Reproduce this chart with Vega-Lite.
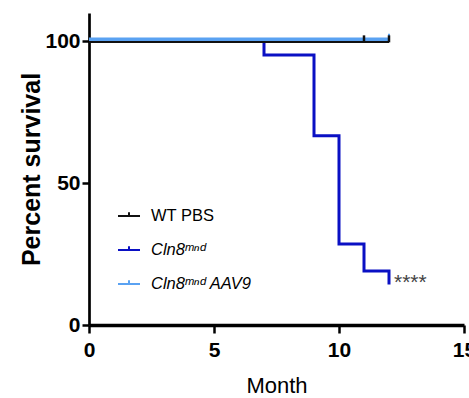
{
  "$schema": "https://vega.github.io/schema/vega-lite/v6.json",
  "width": 375,
  "height": 312,
  "autosize": "none",
  "padding": {"left": 89, "top": 13, "right": 5, "bottom": 73},
  "background": "white",
  "config": {
    "view": {"stroke": null},
    "axis": {
      "grid": false,
      "domainColor": "#000",
      "tickColor": "#000",
      "labelColor": "#000",
      "titleColor": "#000"
    }
  },
  "datasets": {
    "curves": [
      {"group": "Cln8mnd", "month": 0, "pct": 100},
      {"group": "Cln8mnd", "month": 7, "pct": 95.2},
      {"group": "Cln8mnd", "month": 9, "pct": 66.7},
      {"group": "Cln8mnd", "month": 10, "pct": 28.6},
      {"group": "Cln8mnd", "month": 11, "pct": 19.0},
      {"group": "Cln8mnd", "month": 12, "pct": 14.3},
      {"group": "WT PBS", "month": 0, "pct": 100},
      {"group": "WT PBS", "month": 12, "pct": 100},
      {"group": "Cln8mnd AAV9", "month": 0, "pct": 100},
      {"group": "Cln8mnd AAV9", "month": 12, "pct": 100}
    ],
    "censored": [
      {"group": "WT PBS", "month": 11, "pct": 100},
      {"group": "WT PBS", "month": 12, "pct": 100},
      {"group": "Cln8mnd AAV9", "month": 12, "pct": 100}
    ],
    "notes": [
      {"group": "Cln8mnd", "month": 12, "pct": 14.3, "note": "****"}
    ]
  },
  "layer": [
    {
      "data": {"name": "curves"},
      "transform": [{"filter": "datum.group == 'Cln8mnd'"}],
      "mark": {"type": "line", "interpolate": "step-after", "strokeWidth": 3},
      "encoding": {
        "x": {
          "field": "month", "type": "quantitative",
          "scale": {"domain": [0, 15], "nice": false, "zero": false},
          "axis": {
            "values": [0, 5, 10, 15],
            "title": "Month",
            "titleFont": "Liberation Sans, Arial",
            "titleFontSize": 22,
            "titleFontWeight": "normal",
            "titlePadding": 15,
            "labelFont": "Liberation Sans, Arial",
            "labelFontSize": 21,
            "labelFontWeight": "bold",
            "labelPadding": 6,
            "tickSize": 8,
            "tickWidth": 2.5,
            "domainWidth": 3.5,
            "labelFlush": false,
            "labelOverlap": false
          }
        },
        "y": {
          "field": "pct", "type": "quantitative",
          "scale": {"domain": [0, 110], "nice": false},
          "axis": {
            "values": [0, 50, 100],
            "title": "Percent survival",
            "titleFont": "Liberation Sans, Arial",
            "titleFontSize": 25,
            "titleFontWeight": "bold",
            "titlePadding": 0,
            "labelFont": "Liberation Sans, Arial",
            "labelFontSize": 21,
            "labelFontWeight": "bold",
            "labelPadding": 2,
            "tickSize": 7,
            "tickWidth": 2.5,
            "domainWidth": 2.7,
            "labelFlush": false,
            "labelOverlap": false
          }
        },
        "color": {
          "field": "group", "type": "nominal",
          "scale": {
            "domain": ["WT PBS", "Cln8mnd", "Cln8mnd AAV9"],
            "range": ["#111111", "#0a10c4", "#5aa2f2"]
          },
          "legend": {
            "orient": "none",
            "legendX": 28,
            "legendY": 191,
            "title": null,
            "padding": 0,
            "symbolType": "M-1,0H1M0,0V-0.35",
            "symbolSize": 484,
            "symbolStrokeWidth": 2,
            "symbolFillColor": "transparent",
            "labelOffset": 10,
            "rowPadding": 13,
            "labelFont": "Liberation Sans, Arial",
            "labelFontSize": 16.5,
            "labelColor": "#000",
            "labelExpr": "replace(datum.label, 'mnd', 'ᵐⁿᵈ')",
            "labelLimit": 300,
            "encode": {
              "labels": {
                "update": {
                  "fontStyle": {"signal": "datum.value == 'WT PBS' ? 'normal' : 'italic'"}
                }
              }
            }
          }
        }
      }
    },
    {
      "data": {"name": "curves"},
      "transform": [{"filter": "datum.group == 'WT PBS'"}],
      "mark": {"type": "line", "interpolate": "step-after", "strokeWidth": 2, "yOffset": 0.7},
      "encoding": {
        "x": {"field": "month", "type": "quantitative"},
        "y": {"field": "pct", "type": "quantitative"},
        "color": {"field": "group", "type": "nominal"}
      }
    },
    {
      "data": {"name": "curves"},
      "transform": [{"filter": "datum.group == 'Cln8mnd AAV9'"}],
      "mark": {"type": "line", "interpolate": "step-after", "strokeWidth": 3.5, "yOffset": -2.2},
      "encoding": {
        "x": {"field": "month", "type": "quantitative"},
        "y": {"field": "pct", "type": "quantitative"},
        "color": {"field": "group", "type": "nominal"}
      }
    },
    {
      "data": {"name": "censored"},
      "transform": [{"filter": "datum.group == 'Cln8mnd AAV9'"}],
      "mark": {"type": "point", "shape": "M0,0V-1", "filled": false, "size": 100, "strokeWidth": 2, "opacity": 1, "yOffset": -2.5},
      "encoding": {
        "x": {"field": "month", "type": "quantitative"},
        "y": {"field": "pct", "type": "quantitative"},
        "color": {"field": "group", "type": "nominal"}
      }
    },
    {
      "data": {"name": "censored"},
      "transform": [{"filter": "datum.group == 'WT PBS'"}],
      "mark": {"type": "point", "shape": "M0,0V-1", "filled": false, "size": 196, "strokeWidth": 2.5, "opacity": 1, "yOffset": 1},
      "encoding": {
        "x": {"field": "month", "type": "quantitative"},
        "y": {"field": "pct", "type": "quantitative"},
        "color": {"field": "group", "type": "nominal"}
      }
    },
    {
      "data": {"name": "notes"},
      "mark": {"type": "text", "align": "left", "baseline": "alphabetic", "dx": 5, "dy": 5, "fontSize": 21, "font": "Liberation Sans, Arial", "color": "#444"},
      "encoding": {
        "x": {"field": "month", "type": "quantitative"},
        "y": {"field": "pct", "type": "quantitative"},
        "text": {"field": "note"}
      }
    }
  ]
}
